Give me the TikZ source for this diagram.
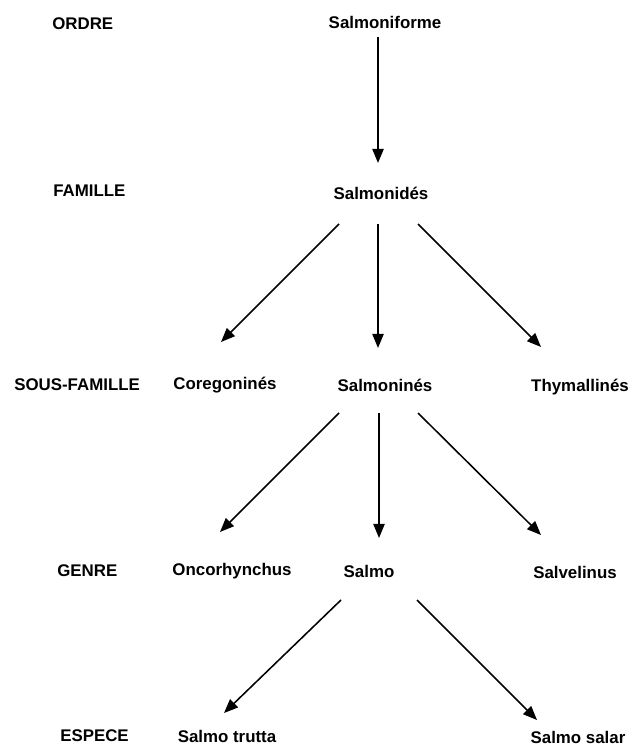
\documentclass[tikz,border=0pt]{standalone}
\usepackage{fontspec}
\setmainfont{Liberation Sans}
\usetikzlibrary{arrows.meta}

\begin{document}
\begin{tikzpicture}[x=0.025cm, y=-0.025cm,
    taxon/.style={font=\bfseries\fontsize{12}{14}\selectfont, inner sep=0pt},
    rang/.style={taxon, anchor=west},
    fleche/.style={line width=1.1pt, -{Triangle[length=10pt,width=8pt]}}]
  \useasboundingbox (0,0) rectangle (632,747);

  % rangs
  \node[rang] (ordre)   at (52,24)  {ORDRE};
  \node[rang] (famille) at (53,191) {FAMILLE};
  \node[rang] (sousfam) at (14,385) {SOUS-FAMILLE};
  \node[rang] (genre)   at (57,571) {GENRE};
  \node[rang] (espece)  at (60,736) {ESPECE};

  % taxons
  \node[taxon] (sfm) at (385,22)  {Salmoniforme};
  \node[taxon] (snd) at (381,193) {Salmonidés};
  \node[taxon] (cor) at (225,385) {Coregoninés};
  \node[taxon] (snn) at (385,385) {Salmoninés};
  \node[taxon] (thy) at (580,387) {Thymallinés};
  \node[taxon] (onc) at (232,571) {Oncorhynchus};
  \node[taxon] (slm) at (369,571) {Salmo};
  \node[taxon] (slv) at (575,572) {Salvelinus};
  \node[taxon] (str) at (227,736) {Salmo trutta};
  \node[taxon] (ssl) at (578,737) {Salmo salar};

  % fleches
  \foreach \a/\ax/\ay/\b/\bx/\by in {sfm/-7/15/snd/-3/-30,
      snd/-42/31/cor/-4/-43, snd/-3/31/snn/-7/-37, snd/37/31/thy/-39/-40,
      snn/-46/28/onc/-12/-39, snn/-6/28/slm/10/-33, snn/33/28/slv/-34/-37,
      slm/-28/29/str/-3/-23, slm/48/29/ssl/-41/-17}
    \draw[fleche] ([shift={(\ax,\ay)}]\a.center) -- ([shift={(\bx,\by)}]\b.center);

\end{tikzpicture}
\end{document}
